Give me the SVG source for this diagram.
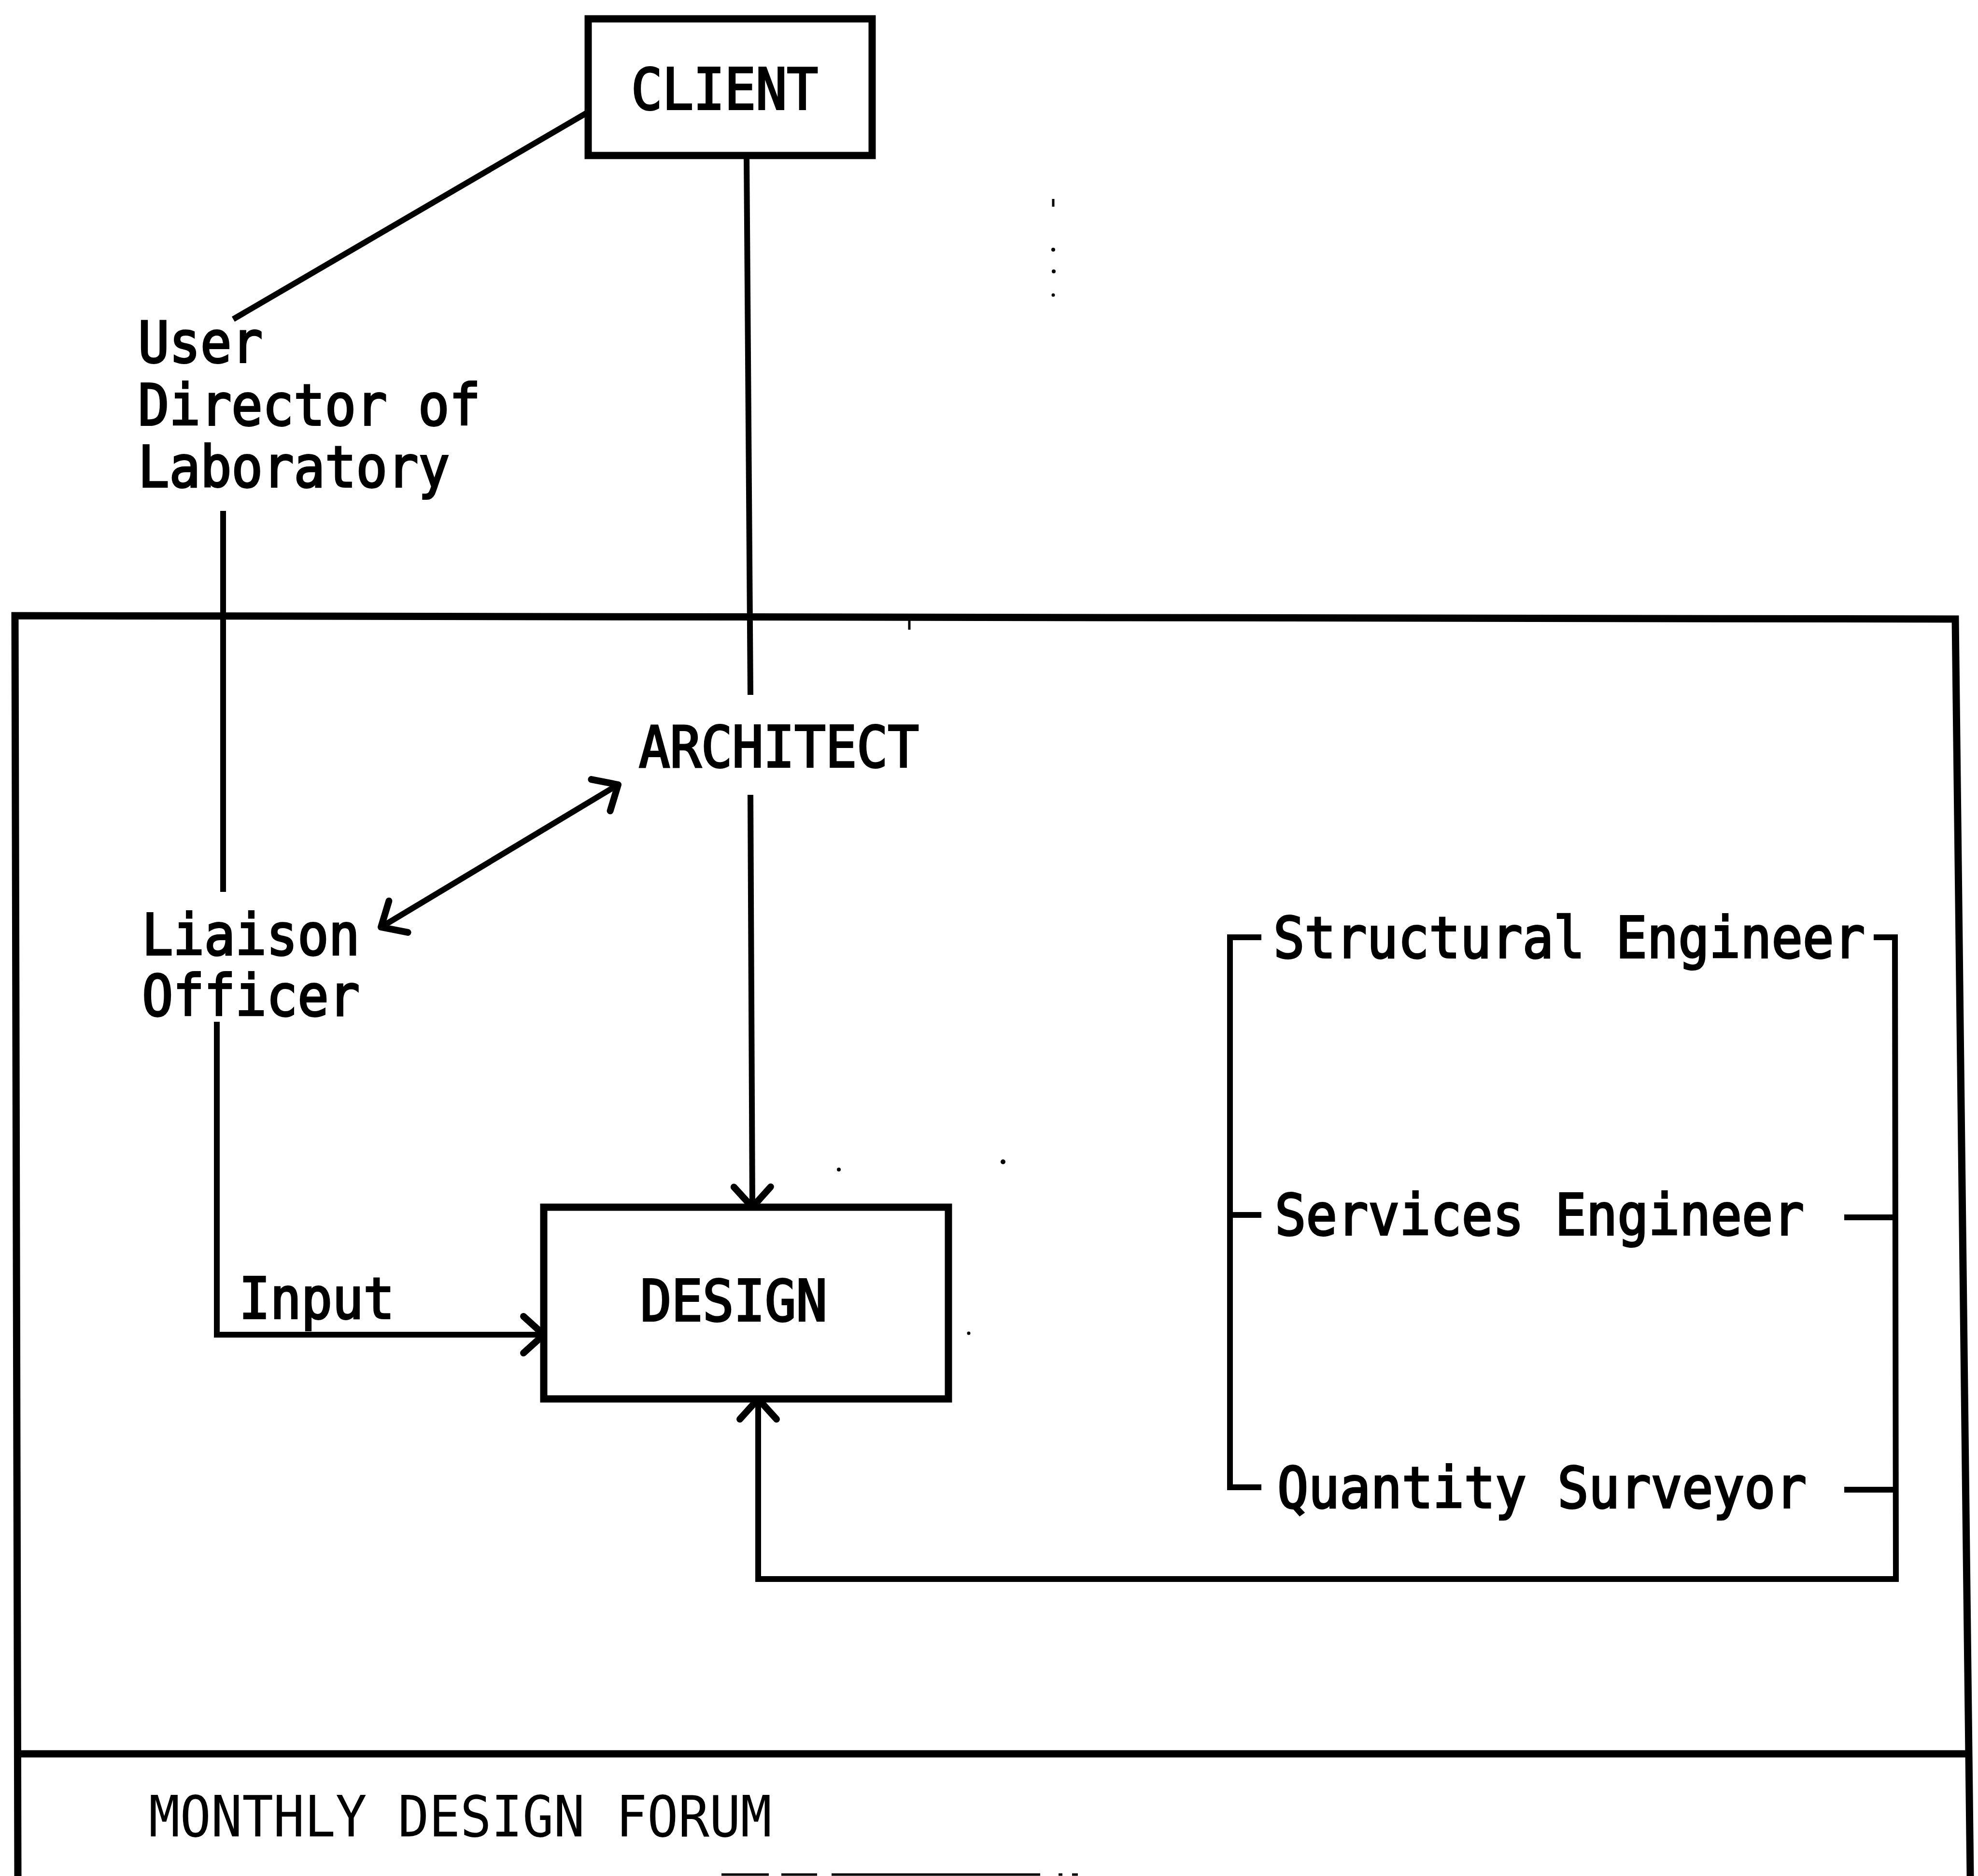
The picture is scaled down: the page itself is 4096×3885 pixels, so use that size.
<svg xmlns="http://www.w3.org/2000/svg" width="4096" height="3885" viewBox="0 0 4096 3885">
  <style>
    .bg { fill: #ffffff; }
    .lbl { font-family: "DejaVu Sans Mono", "Liberation Mono", monospace; font-size: 118px; fill: #000; stroke: #000; stroke-width: 4px; }
    .lbl-thin { font-family: "DejaVu Sans Mono", "Liberation Mono", monospace; font-size: 118px; fill: #000; }
    .box { fill: none; stroke: #000; stroke-width: 15; stroke-linejoin: miter; }
    .frame { fill: none; stroke: #000; stroke-width: 15; stroke-linejoin: miter; }
    .wire { fill: none; stroke: #000; stroke-width: 12; stroke-linejoin: miter; }
    .fine { fill: none; stroke: #000; stroke-width: 5; }
    .speck { fill: #000; }
  </style>
  <defs>
    <marker id="head" markerUnits="userSpaceOnUse" orient="auto-start-reverse" refX="0" refY="0" markerWidth="120" markerHeight="120" viewBox="-60 -60 120 120" overflow="visible">
      <path d="M -42 -38 L 0 0 L -42 38" fill="none" stroke="#000" stroke-width="14" stroke-linecap="round" stroke-linejoin="round"/>
    </marker>
  </defs>

  <rect class="bg" x="0" y="0" width="4096" height="3885"/>

  <!-- outer frame of the project team, with the forum band at the foot -->
  <g id="frame">
    <path class="frame" d="M 37 3885 L 31 1275 L 4049 1282 L 4080 3885"/>
    <path class="frame" d="M 36 3632 L 4076 3632"/>
    <path class="fine" d="M 1883 1282 L 1883 1304"/>
  </g>

  <g id="client">
    <rect class="box" x="1218" y="39" width="588" height="283"/>
    <text class="lbl" x="1307" y="226" textLength="387" lengthAdjust="spacingAndGlyphs">CLIENT</text>
  </g>

  <g id="user">
    <text class="lbl" x="286" y="750" textLength="258" lengthAdjust="spacingAndGlyphs">User</text>
    <text class="lbl" x="286" y="880" textLength="709" lengthAdjust="spacingAndGlyphs">Director of</text>
    <text class="lbl" x="286" y="1008" textLength="645" lengthAdjust="spacingAndGlyphs">Laboratory</text>
  </g>

  <g id="architect">
    <text class="lbl" x="1323" y="1588" textLength="580" lengthAdjust="spacingAndGlyphs">ARCHITECT</text>
  </g>

  <g id="liaison">
    <text class="lbl" x="294" y="1977" textLength="451" lengthAdjust="spacingAndGlyphs">Liaison</text>
    <text class="lbl" x="294" y="2103" textLength="451" lengthAdjust="spacingAndGlyphs">Officer</text>
  </g>

  <g id="design">
    <rect class="box" x="1126" y="2500" width="838" height="397"/>
    <text class="lbl" x="1326" y="2735" textLength="387" lengthAdjust="spacingAndGlyphs">DESIGN</text>
  </g>

  <g id="consultants">
    <text class="lbl" x="2637" y="1983" textLength="1225" lengthAdjust="spacingAndGlyphs">Structural Engineer</text>
    <text class="lbl" x="2640" y="2557" textLength="1096" lengthAdjust="spacingAndGlyphs">Services Engineer</text>
    <text class="lbl" x="2645" y="3122" textLength="1096" lengthAdjust="spacingAndGlyphs">Quantity Surveyor</text>
  </g>

  <g id="forum">
    <text class="lbl-thin" x="308" y="3803" textLength="1290" lengthAdjust="spacingAndGlyphs">MONTHLY DESIGN FORUM</text>
  </g>

  <g id="connectors">
    <!-- client to user -->
    <path class="wire" d="M 1218 232 L 483 661"/>
    <!-- client to architect -->
    <path class="wire" d="M 1546 322 L 1554 1439"/>
    <!-- user to liaison officer -->
    <path class="wire" d="M 462 1058 L 462 1847"/>
    <!-- architect to design -->
    <path class="wire" d="M 1554 1646 L 1558 2500" marker-end="url(#head)"/>
    <!-- architect and liaison officer, both ways -->
    <path class="wire" d="M 789 1920 L 1280 1625" marker-start="url(#head)" marker-end="url(#head)"/>
    <!-- liaison officer input to design -->
    <path class="wire" d="M 449 2116 L 449 2764 L 1126 2764" marker-end="url(#head)"/>
    <text class="lbl" x="495" y="2730" textLength="322" lengthAdjust="spacingAndGlyphs">Input</text>
    <!-- consultants bracket on the left -->
    <path class="wire" d="M 2612 1941 L 2547 1941 L 2547 3080 L 2612 3080"/>
    <path class="wire" d="M 2547 2516 L 2612 2516"/>
    <!-- consultants bracket on the right, feeding back into design -->
    <path class="wire" d="M 3880 1941 L 3924 1941 L 3926 3270 L 1570 3270 L 1570 2897" marker-end="url(#head)"/>
    <path class="wire" d="M 3819 2521 L 3926 2521"/>
    <path class="wire" d="M 3819 3085 L 3926 3085"/>
  </g>

  <!-- stray marks on the sheet -->
  <g id="marks">
    <path class="fine" d="M 2181 412 L 2181 428"/>
    <circle class="speck" cx="2181" cy="517" r="4"/>
    <circle class="speck" cx="2182" cy="562" r="4"/>
    <circle class="speck" cx="2181" cy="611" r="3.5"/>
    <circle class="speck" cx="1737" cy="2422" r="4"/>
    <circle class="speck" cx="2077" cy="2406" r="5"/>
    <circle class="speck" cx="2006" cy="2761" r="3.5"/>
    <path class="fine" d="M 1494 3882 L 1592 3882 M 1618 3882 L 1692 3882 M 1722 3882 L 2154 3882 M 2192 3882 L 2200 3882 M 2220 3882 L 2232 3882"/>
  </g>
</svg>
